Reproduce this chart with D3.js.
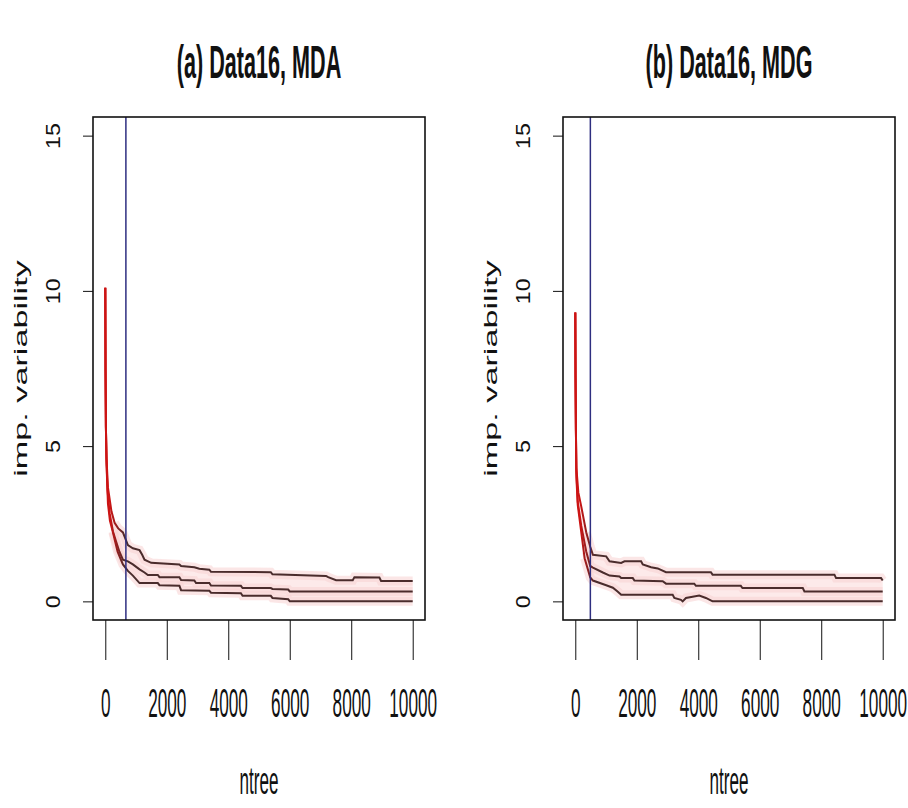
<!DOCTYPE html>
<html>
<head>
<meta charset="utf-8">
<script src="https://cdn.jsdelivr.net/npm/d3@7"></script>
<style>
  body { margin: 0; background: #fff; }
  svg { display: block; }
  text { font-family: "Liberation Sans", Arial, sans-serif; fill: #111; }
</style>
</head>
<body>
<svg id="chart" width="908" height="808"></svg>
<script>
const xTicks = [0, 2000, 4000, 6000, 8000, 10000];
const yTicks = [0, 5, 10, 15];
const titles = ["(a) Data16, MDA", "(b) Data16, MDG"];
const xLabel = "ntree";
const yLabel = "imp. variability";
const cutoffs = [670, 490];

// [ntree, variability]
const mdaUpper = [[0,10.1],[8,7.4],[20,5.6],[40,4.6],[86,3.67],[200,2.9],[303,2.53],[420,2.35],[573,2.22],[735,1.81],[897,1.71],[1114,1.65],[1200,1.5],[1276,1.34],[1492,1.24],[2411,1.19],[2465,1.14],[2897,1.1],[3059,1.05],[3384,1.02],[3438,0.95],[5384,0.94],[5438,0.87],[7180,0.82],[7250,0.78],[7508,0.68],[8050,0.68],[8104,0.78],[8917,0.77],[8971,0.66],[10000,0.66]];
const mdaMiddle = [[0,10.1],[8,7.4],[20,5.6],[40,4.6],[70,3.6],[141,2.84],[250,2.25],[357,1.91],[460,1.6],[573,1.34],[735,1.29],[897,1.19],[1114,1.03],[1276,0.93],[1384,0.85],[1708,0.85],[1762,0.78],[2411,0.78],[2465,0.69],[2897,0.67],[2951,0.59],[3384,0.59],[3438,0.51],[4411,0.5],[4465,0.43],[5384,0.43],[5438,0.4],[5950,0.38],[6000,0.32],[10000,0.32]];
const mdaLower = [[0,10.1],[8,7.4],[20,5.6],[40,4.4],[86,3.15],[150,2.6],[249,2.22],[400,1.6],[573,1.19],[735,0.98],[897,0.83],[1114,0.59],[1708,0.59],[1762,0.52],[2411,0.5],[2465,0.36],[3384,0.34],[3438,0.28],[4411,0.26],[4465,0.18],[5384,0.18],[5438,0.11],[5950,0.07],[6000,0],[10000,0]];

const mdgUpper = [[0,9.3],[8,7.2],[20,5.5],[35,4.3],[100,3.5],[195,3.05],[357,2.22],[486,1.76],[573,1.5],[1005,1.45],[1114,1.29],[1492,1.24],[1600,1.29],[2141,1.29],[2195,1.19],[2465,1.1],[2681,1.06],[2951,0.94],[4411,0.94],[4465,0.86],[8430,0.86],[8483,0.75],[9946,0.75],[10000,0.67]];
const mdgMiddle = [[0,9.3],[8,7.2],[20,5.5],[35,4.2],[80,3.2],[195,2.43],[357,1.6],[486,1.14],[573,1.09],[897,0.93],[1114,0.83],[1438,0.8],[1492,0.75],[1870,0.75],[1924,0.67],[2843,0.65],[2951,0.57],[3870,0.57],[3924,0.5],[5384,0.5],[5438,0.43],[7400,0.43],[7454,0.32],[10000,0.32]];
const mdgLower = [[0,9.3],[8,7.2],[20,5.5],[35,4.0],[80,3.1],[141,2.63],[303,1.39],[486,0.77],[573,0.67],[1005,0.52],[1222,0.44],[1384,0.31],[1492,0.21],[3168,0.21],[3222,0.11],[3438,0.05],[3492,0],[3600,0.11],[4032,0.19],[4249,0.11],[4465,0],[10000,0]];

const panels = [
  { title: titles[0], cutoff: cutoffs[0], upper: mdaUpper, middle: mdaMiddle, lower: mdaLower, left: 93 },
  { title: titles[1], cutoff: cutoffs[1], upper: mdgUpper, middle: mdgMiddle, lower: mdgLower, left: 563 }
];

const svg = d3.select("#chart");
svg.append("rect").attr("width", 908).attr("height", 808).attr("fill", "#fff");
const defs = svg.append("defs");

const plotW = 332, plotTop = 117, plotBottom = 620;
// the source image is squashed sideways, so horizontal text is narrow and tall
const squeeze = 0.43;

panels.forEach((p, i) => {
  const x = d3.scaleLinear().domain([-400, 10400]).range([p.left, p.left + plotW]);
  const y = d3.scaleLinear().domain([-0.6, 15.6]).range([plotBottom, plotTop]);
  const g = svg.append("g");

  const grad = defs.append("linearGradient")
    .attr("id", `lineGrad${i}`)
    .attr("gradientUnits", "userSpaceOnUse")
    .attr("x1", x(150)).attr("x2", x(650))
    .attr("y1", 0).attr("y2", 0);
  grad.append("stop").attr("offset", 0).attr("stop-color", "#cc1414");
  grad.append("stop").attr("offset", 1).attr("stop-color", "#4a2c2c");

  const line = d3.line().x(d => x(d[0])).y(d => y(d[1]));

  // pink range band
  g.append("path")
    .attr("d", line(p.upper.concat(p.lower.slice().reverse())) + "Z")
    .attr("fill", "#fdeaea");

  [p.upper, p.middle, p.lower].forEach(series => {
    g.append("path")
      .attr("d", line(series.filter(d => d[0] > 200)))
      .attr("fill", "none")
      .attr("stroke", "#f7d2d2")
      .attr("stroke-opacity", 0.55)
      .attr("stroke-width", 9);
  });
  [p.upper, p.middle, p.lower].forEach(series => {
    g.append("path")
      .attr("d", line(series))
      .attr("fill", "none")
      .attr("stroke", `url(#lineGrad${i})`)
      .attr("stroke-width", 2);
  });

  g.append("line")
    .attr("x1", x(p.cutoff)).attr("x2", x(p.cutoff))
    .attr("y1", plotTop).attr("y2", plotBottom)
    .attr("stroke", "#2e2e80")
    .attr("stroke-width", 1.5);

  g.append("rect")
    .attr("x", p.left).attr("y", plotTop)
    .attr("width", plotW).attr("height", plotBottom - plotTop)
    .attr("fill", "none")
    .attr("stroke", "#111")
    .attr("stroke-width", 1.6);

  const xAxis = g.append("g")
    .attr("transform", `translate(0,${plotBottom})`)
    .call(d3.axisBottom(x).tickValues(xTicks).tickFormat(d3.format("d")).tickSize(40).tickSizeOuter(0));
  xAxis.select(".domain").remove();
  xAxis.selectAll("line").attr("stroke", "#111");
  xAxis.selectAll("text")
    .attr("x", 0).attr("y", 0).attr("dy", 0)
    .attr("transform", `translate(0,97) scale(${squeeze},1)`)
    .attr("font-size", 40)
    .attr("fill", "#111");

  const yAxis = g.append("g")
    .attr("transform", `translate(${p.left},0)`)
    .call(d3.axisLeft(y).tickValues(yTicks).tickSize(10).tickSizeOuter(0));
  yAxis.select(".domain").remove();
  yAxis.selectAll("line").attr("stroke", "#111");
  yAxis.selectAll("text")
    .attr("x", 0).attr("y", 0).attr("dy", 0)
    .attr("text-anchor", "middle")
    .attr("transform", "translate(-33,0) rotate(-90) scale(1.1,1)")
    .attr("font-size", 21)
    .attr("fill", "#222");

  const cx = p.left + plotW / 2;
  svg.append("text")
    .attr("transform", `translate(${cx},78) scale(0.46,1)`)
    .attr("text-anchor", "middle")
    .attr("font-size", 47)
    .attr("font-weight", "bold")
    .text(p.title);

  svg.append("text")
    .attr("transform", `translate(${cx},794) scale(0.45,1)`)
    .attr("text-anchor", "middle")
    .attr("font-size", 38)
    .text(xLabel);

  svg.append("text")
    .attr("transform", `translate(${p.left - 66},${(plotTop + plotBottom) / 2}) rotate(-90) scale(1.8,1)`)
    .attr("text-anchor", "middle")
    .attr("font-size", 19)
    .attr("fill", "#333")
    .text(yLabel);
});
</script>
</body>
</html>
